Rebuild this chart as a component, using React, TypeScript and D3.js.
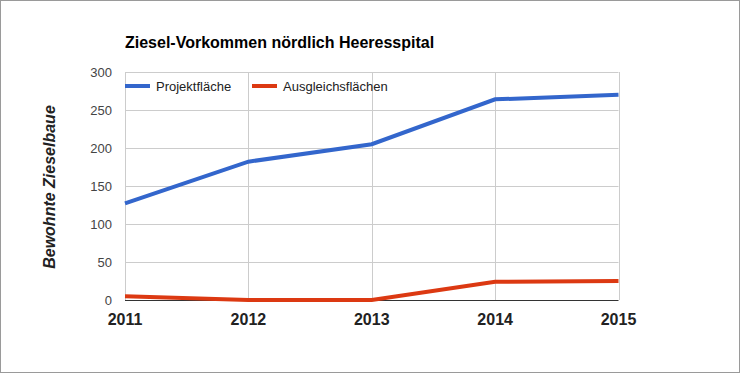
import React from "react";
import * as d3 from "d3";

const years = ["2011", "2012", "2013", "2014", "2015"];
const projektflaeche = [127, 182, 205, 264, 270];
const ausgleichsflaechen = [5, 0, 0, 24, 25];
const yTicks = [0, 50, 100, 150, 200, 250, 300];
const seriesNames = ["Projektfläche", "Ausgleichsflächen"];
const seriesColors = ["#3366cc", "#dc3912"];

const W = 743;
const H = 373;
const M = { left: 125, right: 618.5, top: 72, bottom: 300 };

export default function App() {
  const x = d3.scalePoint<string>().domain(years).range([M.left, M.right]);
  const y = d3.scaleLinear().domain([0, 300]).range([M.bottom, M.top]);
  const line = d3
    .line<number>()
    .x((_, i) => x(years[i]) as number)
    .y((d) => y(d));
  const series = [projektflaeche, ausgleichsflaechen];
  const font = "Arial, 'Liberation Sans', sans-serif";
  const legendX = [125, 252];

  return (
    <div style={{ position: "absolute", left: 0, top: 0 }}>
      <svg width={W} height={H} style={{ display: "block", fontFamily: font }}>
        <rect x={0} y={0} width={W} height={H} fill="#fff" />
        <rect x={0.5} y={0.5} width={739} height={372} fill="none" stroke="#9a9a9a" />
        <text x={125} y={47.5} fontSize={16} fontWeight="bold" fill="#000">
          Ziesel-Vorkommen nördlich Heeresspital
        </text>
        {yTicks.map((t) => (
          <g key={t}>
            {t !== 0 && (
              <line x1={M.left} x2={M.right} y1={Math.round(y(t)) + 0.5} y2={Math.round(y(t)) + 0.5} stroke="#cccccc" />
            )}
            <text x={112} y={y(t)} dy="0.35em" textAnchor="end" fontSize={13} fill="#444">
              {t}
            </text>
          </g>
        ))}
        {years.map((yr) => (
          <g key={yr}>
            <line
              x1={Math.round(x(yr) as number) + 0.5}
              x2={Math.round(x(yr) as number) + 0.5}
              y1={M.top}
              y2={M.bottom}
              stroke="#cccccc"
            />
            <text x={x(yr)} y={325} textAnchor="middle" fontSize={16} fontWeight="bold" fill="#222">
              {yr}
            </text>
          </g>
        ))}
        <line x1={M.left} x2={M.right} y1={M.bottom + 0.5} y2={M.bottom + 0.5} stroke="#333" />
        {series.map((s, i) => (
          <path key={i} d={line(s) as string} fill="none" stroke={seriesColors[i]} strokeWidth={4} />
        ))}
        {seriesNames.map((n, i) => (
          <g key={n}>
            <rect x={legendX[i]} y={84} width={25} height={4} fill={seriesColors[i]} />
            <text x={legendX[i] + 31} y={86} dy="0.35em" fontSize={13} fill="#222">
              {n}
            </text>
          </g>
        ))}
        <text
          transform={`translate(55,187) rotate(-90)`}
          textAnchor="middle"
          fontSize={16}
          fontWeight="bold"
          fontStyle="italic"
          fill="#222"
        >
          Bewohnte Zieselbaue
        </text>
      </svg>
    </div>
  );
}
